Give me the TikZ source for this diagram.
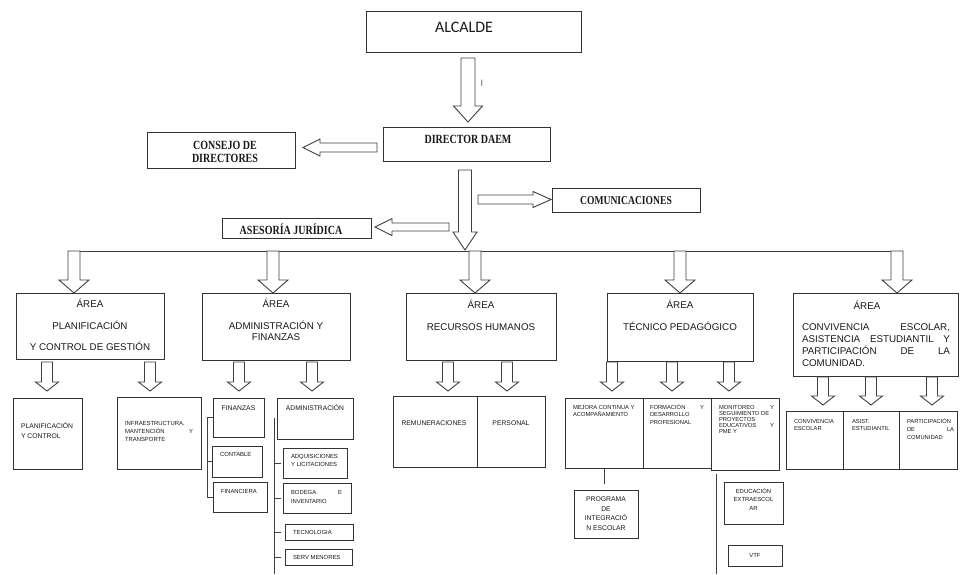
\documentclass[tikz,border=0pt]{standalone}
\usepackage{fontspec}
\setmainfont{Liberation Sans}
\newfontfamily\tms[FakeStretch=0.8]{Liberation Serif Bold}
\newfontfamily\carl{Carlito}
\usetikzlibrary{calc,fit}
\tikzset{
 box/.style={draw=black!80, line width=0.9pt, inner sep=0pt, outer sep=0pt},
 barrow/.style={draw=black!75, line width=0.9pt, fill=white, line join=miter},
 tx/.style={inner sep=0pt, outer sep=0pt, text=black!90},
 lnk/.style={draw=black!75, line width=0.9pt}
}
\newcommand\bx[5]{\node[box, fit={(#2,#3) (#4,#5)}] (#1) {};}
\newcommand\barrD[5]{\draw[barrow] ($(#1)+(-#3,0)$) -- ($(#2)+(-#3,-#5)$) -- ($(#2)+(-#4,-#5)$) -- (#2) -- ($(#2)+(#4,-#5)$) -- ($(#2)+(#3,-#5)$) -- ($(#1)+(#3,0)$) -- cycle;}
\newcommand\barrL[5]{\draw[barrow] ($(#1)+(0,-#3)$) -- ($(#2)+(#5,-#3)$) -- ($(#2)+(#5,-#4)$) -- (#2) -- ($(#2)+(#5,#4)$) -- ($(#2)+(#5,#3)$) -- ($(#1)+(0,#3)$) -- cycle;}
\newcommand\barrR[5]{\draw[barrow] ($(#1)+(0,-#3)$) -- ($(#2)+(-#5,-#3)$) -- ($(#2)+(-#5,-#4)$) -- (#2) -- ($(#2)+(-#5,#4)$) -- ($(#2)+(-#5,#3)$) -- ($(#1)+(0,#3)$) -- cycle;}
\newcommand\jf[1]{\leavevmode\hbox to\hsize{#1}}
\newcommand\vt[4]{\vtop{\hsize=#1pt\fontsize{#2}{#3}\selectfont\parindent=0pt\parskip=0pt\relax\leavevmode#4\par}}
\begin{document}
\begin{tikzpicture}[x=1pt,y=-1pt]
\fill[white] (0,0) rectangle (962,574);
\useasboundingbox (0,0) rectangle (962,574);

% ---- top boxes
\bx{alc}{366}{11}{581}{52}
\bx{dir}{383}{127}{550}{161}
\bx{con}{147}{132}{295}{168}
\bx{com}{552}{188}{700}{212}
\bx{ase}{222}{218}{371}{238}

\node[tx,anchor=base] (talc) at (464,32.5) {\carl\fontsize{16}{18}\selectfont ALCALDE};
\node[tx,anchor=base,text=black!60] (tI) at (482,86) {\carl\fontsize{10}{12}\selectfont I};
\node[tx,anchor=base] (tdir) at (468,143) {\tms\fontsize{12.5}{13}\selectfont DIRECTOR DAEM};
\node[tx,anchor=base] (tcon) at (225,149.5) {\vt{140}{12.5}{13}{\tms\centering CONSEJO DE\\DIRECTORES}};
\node[tx,anchor=base] (tcom) at (626,204) {\tms\fontsize{12}{13}\selectfont COMUNICACIONES};
\node[tx,anchor=base] (tase) at (291,234) {\tms\fontsize{12.5}{13}\selectfont ASESORÍA JURÍDICA};

% ---- top arrows
\coordinate (a1s) at (468,58);  \coordinate (a1e) at (468,122);
\barrD{a1s}{a1e}{7}{14.5}{16}
\coordinate (cl1) at (377,147.5); \coordinate (cl2) at (303,147.5);
\barrL{cl1}{cl2}{4.5}{8.5}{17}
\coordinate (d1s) at (465,170); \coordinate (d1e) at (465,250);
\barrD{d1s}{d1e}{6.5}{12}{18}
\coordinate (r1s) at (478,199.5); \coordinate (r1e) at (551,199.5);
\barrR{r1s}{r1e}{4.5}{8}{18}
\coordinate (l2s) at (449,227); \coordinate (l2e) at (375,227);
\barrL{l2s}{l2e}{4}{8.5}{17}

% ---- bar
\coordinate (barL) at (68,251); \coordinate (barR) at (903,251);
\draw[lnk] (barL) -- (barR);

% ---- area boxes
\bx{b1}{16}{293}{164}{359}
\bx{b2}{202}{293}{350}{360}
\bx{b3}{406}{293}{556}{360}
\bx{b4}{607}{293}{753}{361}
\bx{b5}{793}{293}{958}{376}

\foreach \n/\x in {1/74,2/273,3/475,4/680,5/897}{
  \coordinate (t\n) at (\x,251);
  \coordinate (h\n) at (t\n |- b\n.north);
  \barrD{t\n}{h\n}{6}{15}{13}
}

\node[tx,anchor=base] (tb1) at (90,307.5) {\vt{148}{9.8}{12}{\centering ÁREA\\[10pt]PLANIFICACIÓN\\[9pt]Y CONTROL DE GESTIÓN}};
\node[tx,anchor=base] (tb2) at (276,307.5) {\vt{148}{9.8}{12}{\centering ÁREA\\[10pt]ADMINISTRACIÓN Y\\[-1pt]FINANZAS}};
\node[tx,anchor=base] (tb3) at (481,308.5) {\vt{148}{9.8}{12}{\centering ÁREA\\[10pt]RECURSOS HUMANOS}};
\node[tx,anchor=base] (tb4) at (680,308.5) {\vt{146}{9.8}{12}{\centering ÁREA\\[10pt]TÉCNICO PEDAGÓGICO}};
\node[tx,anchor=base] (tb5a) at (867,309.5) {\fontsize{9.8}{12}\selectfont ÁREA};
\node[tx,anchor=base west] (tb5) at (802,330.5) {\vt{148}{9.8}{12}{\raggedright\jf{CONVIVENCIA\hfill ESCOLAR,}\\\jf{ASISTENCIA\hfill ESTUDIANTIL\hfill Y}\\\jf{PARTICIPACIÓN\hfill DE\hfill LA}\\COMUNIDAD.}};

% ---- sub arrows
\foreach \n/\x in {1/47,2/150,3/239,4/312,5/448,6/507,7/612,8/672,9/729}{
  \coordinate (u\n) at (\x,362);
  \coordinate (v\n) at (\x,391);
  \barrD{u\n}{v\n}{5.5}{11.5}{9}
}
\foreach \n/\x in {10/823,11/871,12/932}{
  \coordinate (u\n) at (\x,377);
  \coordinate (v\n) at (\x,405);
  \barrD{u\n}{v\n}{5.5}{11.5}{9}
}

% ---- sub boxes
\bx{pc}{13}{398}{82}{469}
\bx{inf}{117}{397}{201}{469}
\bx{fin}{213}{398}{264}{437}
\bx{cont}{212}{446}{262}{477}
\bx{finc}{213}{482}{267}{512}
\bx{adm}{277}{398}{353}{439}
\bx{adq}{283}{448}{347}{478}
\bx{bod}{283}{483}{351}{513}
\bx{tec}{285}{524}{353}{540}
\bx{serv}{285}{549}{352}{565}
\bx{rem}{393}{396}{477}{467}
\bx{per}{477}{396}{545}{467}
\bx{mej}{565}{398}{643}{468}
\bx{for}{643}{398}{711}{468}
\bx{mon}{711}{398}{779}{470}
\bx{pie}{574}{490}{638}{538}
\bx{edu}{724}{482}{783}{524}
\bx{vtf}{728}{545}{782}{566}
\bx{cve}{786}{411}{843}{469}
\bx{asi}{843}{411}{899}{469}
\bx{par}{899}{411}{957}{469}

% ---- sub texts
\node[tx,anchor=base west] (tpc) at (21,428.5) {\vt{60}{6.8}{10}{\raggedright PLANIFICACIÓN\\Y CONTROL}};
\node[tx,anchor=base west] (tinf) at (125,425) {\vt{68}{5.9}{8}{\raggedright INFRAESTRUCTURA,\\\jf{MANTENCIÓN\hfill Y}\\TRANSPORTE}};
\node[tx,anchor=base] (tfin) at (238.5,410.5) {\fontsize{6.8}{8}\selectfont FINANZAS};
\node[tx,anchor=base west] (tcont) at (220,456) {\fontsize{5.9}{7}\selectfont CONTABLE};
\node[tx,anchor=base west] (tfinc) at (221,493) {\fontsize{5.9}{7}\selectfont FINANCIERA};
\node[tx,anchor=base] (tadm) at (315,410.5) {\fontsize{6.7}{8}\selectfont ADMINISTRACIÓN};
\node[tx,anchor=base west] (tadq) at (291,458) {\vt{56}{5.9}{8}{\raggedright ADQUISICIONES\\Y LICITACIONES}};
\node[tx,anchor=base west] (tbod) at (291,494) {\vt{51}{5.9}{9}{\raggedright\jf{BODEGA\hfill E}\\INVENTARIO}};
\node[tx,anchor=base west] (ttec) at (293,534) {\fontsize{5.9}{7}\selectfont TECNOLOGIA};
\node[tx,anchor=base west] (tserv) at (293,559) {\fontsize{5.9}{7}\selectfont SERV MENORES};
\node[tx,anchor=base] (trem) at (434,425.5) {\fontsize{6.8}{8}\selectfont REMUNERACIONES};
\node[tx,anchor=base] (tper) at (511,425.5) {\fontsize{6.8}{8}\selectfont PERSONAL};
\node[tx,anchor=base west] (tmej) at (573,409) {\vt{68}{5.8}{7.6}{\raggedright MEJORA CONTINUA Y\\ACOMPAÑAMIENTO}};
\node[tx,anchor=base west] (tfor) at (650,409) {\vt{54}{5.8}{7.6}{\raggedright\jf{FORMACIÓN\hfill Y}\\DESARROLLO\\PROFESIONAL}};
\node[tx,anchor=base west] (tmon) at (719,409) {\vt{55}{5.8}{6.2}{\raggedright\jf{MONITOREO\hfill Y}\\SEGUIMIENTO DE\\PROYECTOS\\\jf{EDUCATIVOS\hfill Y}\\PME Y}};
\node[tx,anchor=base] (tpie) at (606,501.5) {\vt{62}{6.8}{9.5}{\centering PROGRAMA\\DE\\INTEGRACIÓ\\N ESCOLAR}};
\node[tx,anchor=base] (tedu) at (753.5,493) {\vt{56}{5.9}{8.5}{\centering EDUCACIÓN\\EXTRAESCOL\\AR}};
\node[tx,anchor=base] (tvtf) at (755,557) {\fontsize{5.9}{7}\selectfont VTF};
\node[tx,anchor=base west] (tcve) at (794,423) {\vt{48}{5.8}{7.7}{\raggedright CONVIVENCIA\\ESCOLAR}};
\node[tx,anchor=base west] (tasi) at (852,423) {\vt{45}{5.8}{7.7}{\raggedright ASIST.\\ESTUDIANTIL}};
\node[tx,anchor=base west] (tpar) at (907,423) {\vt{47}{5.8}{8}{\raggedright PARTICIPACIÓN\\\jf{DE\hfill LA}\\COMUNIDAD}};

% ---- connector lines
\draw[lnk] (fin.west) -- ++(-6,0) |- (finc.west);
\draw[lnk] (cont.west) -- ++(-5,0);
\coordinate (admT) at (274,418); \coordinate (admB) at (274,574);
\draw[lnk] (admT) -- (admB);
\foreach \b in {adq,bod,tec,serv}{ \draw[lnk] (admT |- \b.west) -- ++(7,0); }
\draw[lnk] ($(mej.south)+(0,1)$) -- ($(mej.south)+(0,16)$);
\coordinate (monT) at (716,474); \coordinate (monB) at (716,574);
\draw[lnk] (monT) -- (monB);
\end{tikzpicture}
\end{document}
